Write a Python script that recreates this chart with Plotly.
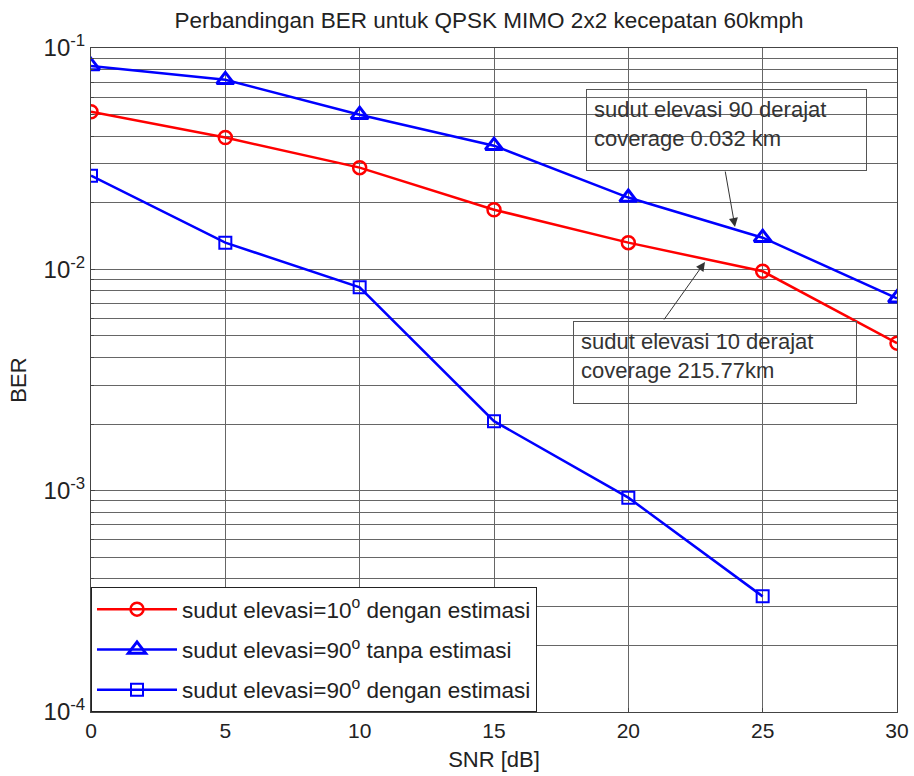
import plotly.graph_objects as go

snr = [0, 5, 10, 15, 20, 25, 30]
ber_10_est = [0.0515, 0.0394, 0.0288, 0.0186, 0.0132, 0.0098, 0.00464]
ber_90_noest = [0.083, 0.0718, 0.0499, 0.0362, 0.0211, 0.0139, 0.0074]
snr_90_est = [0, 5, 10, 15, 20, 25]
ber_90_est = [0.0265, 0.0132, 0.0083, 0.00206, 0.00093, 0.000333]

names = ["sudut elevasi=10<sup>o</sup> dengan estimasi",
         "sudut elevasi=90<sup>o</sup> tanpa estimasi",
         "sudut elevasi=90<sup>o</sup> dengan estimasi"]

decades = [-4, -3, -2, -1]
major_vals = [10.0 ** d for d in decades]
major_text = [f"10<sup>{d}</sup>" for d in decades]
minor_vals = [m * 10.0 ** d for d in decades[:-1] for m in range(2, 10)]

FONT = "Liberation Sans, Arial, sans-serif"
TXT = "#222"

fig = go.Figure()
fig.add_trace(go.Scatter(x=snr, y=ber_10_est, mode="lines+markers", name=names[0],
                         legendgroup="a",
                         line=dict(color="#ff0000", width=2.5),
                         marker=dict(symbol="circle-open", size=13, color="#ff0000", line=dict(width=2.5))))
fig.add_trace(go.Scatter(x=snr, y=ber_90_noest, mode="lines+markers", name=names[1],
                         legendgroup="b",
                         line=dict(color="#0000ff", width=2.5),
                         marker=dict(symbol="triangle-up-open", size=15, color="#0000ff", line=dict(width=3))))
fig.add_trace(go.Scatter(x=snr_90_est, y=ber_90_est, mode="lines+markers", name=names[2],
                         legendgroup="c",
                         line=dict(color="#0000ff", width=2.5),
                         marker=dict(symbol="square-open", size=12, color="#0000ff", line=dict(width=2))))

fig.update_layout(
    width=914, height=776,
    margin=dict(l=91, r=17, t=48, b=64),
    paper_bgcolor="white", plot_bgcolor="white",
    font=dict(family=FONT, size=21, color=TXT),
    title=dict(text="Perbandingan BER untuk QPSK MIMO 2x2 kecepatan 60kmph",
               x=0.535, xanchor="center", y=0.974, yanchor="middle",
               font=dict(size=22.5, color=TXT)),
    showlegend=True,
    legend=dict(x=0.0, y=0.0, xanchor="left", yanchor="bottom",
                bgcolor="white", bordercolor="#222", borderwidth=1,
                tracegroupgap=8, font=dict(size=22.5, color=TXT),
                itemwidth=80),
)
fig.update_xaxes(range=[0, 30], tickvals=[0, 5, 10, 15, 20, 25, 30],
                 automargin=False,
                 showgrid=True, gridcolor="#666", gridwidth=1,
                 showline=True, linecolor="#444", linewidth=1, mirror=True,
                 ticks="inside", ticklen=4, tickcolor="#444",
                 tickfont=dict(size=21),
                 zeroline=False,
                 title=dict(text="SNR [dB]", standoff=10, font=dict(size=22)))
fig.update_yaxes(type="log", range=[-4, -1], tickmode="array",
                 automargin=False,
                 tickvals=major_vals, ticktext=major_text,
                 showgrid=True, gridcolor="#666", gridwidth=1,
                 showline=True, linecolor="#444", linewidth=1, mirror=True,
                 ticks="inside", ticklen=4, tickcolor="#444",
                 tickfont=dict(size=24),
                 minor=dict(tickmode="array", tickvals=minor_vals, showgrid=True,
                            gridcolor="#666", gridwidth=1, ticks="inside", ticklen=3,
                            tickcolor="#444"),
                 title=dict(text="BER", standoff=10, font=dict(size=22)))

# text boxes
fig.add_annotation(xref="paper", yref="paper",
                   x=(586 - 91) / 806, y=1 - (89 - 48) / 664, xanchor="left", yanchor="top",
                   text="sudut elevasi 90 derajat<br>coverage 0.032 km", align="left",
                   showarrow=False, width=265, height=66, valign="top",
                   bordercolor="#555", borderwidth=1, borderpad=7,
                   font=dict(size=22, color="#333"))
fig.add_annotation(xref="paper", yref="paper",
                   x=(573 - 91) / 806, y=1 - (321 - 48) / 664, xanchor="left", yanchor="top",
                   text="sudut elevasi 10 derajat<br>coverage 215.77km", align="left",
                   showarrow=False, width=268, height=67, valign="top",
                   bordercolor="#555", borderwidth=1, borderpad=7,
                   font=dict(size=22, color="#333"))
# arrows
fig.add_annotation(xref="paper", yref="paper",
                   x=(735 - 91) / 806, y=1 - (227 - 48) / 664, ax=-10, ay=-57,
                   text="", showarrow=True, arrowhead=2, arrowsize=1.8, arrowwidth=1,
                   arrowcolor="#333")
fig.add_annotation(xref="paper", yref="paper",
                   x=(705 - 91) / 806, y=1 - (262 - 48) / 664, ax=-42, ay=59,
                   text="", showarrow=True, arrowhead=2, arrowsize=1.8, arrowwidth=1,
                   arrowcolor="#333")

fig.write_html("out.html")
